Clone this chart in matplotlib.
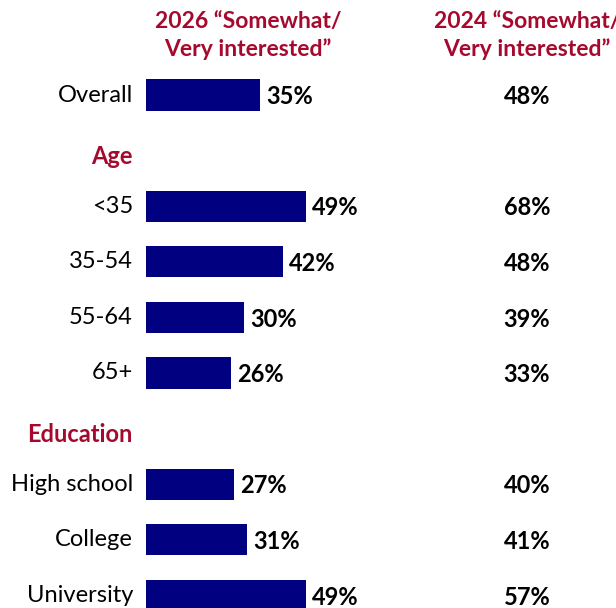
import matplotlib
matplotlib.use("Agg")
import matplotlib.pyplot as plt

# rows top to bottom; None value marks a section header
labels = ["Overall", "Age", "<35", "35-54", "55-64", "65+",
          "Education", "High school", "College", "University"]
is_header = [False, True, False, False, False, False, True, False, False, False]
vals_2026 = [35, None, 49, 42, 30, 26, None, 27, 31, 49]
vals_2024 = [48, None, 68, 48, 39, 33, None, 40, 41, 57]

col_head_2026 = "2026 \u201cSomewhat/\nVery interested\u201d"
col_head_2024 = "2024 \u201cSomewhat/\nVery interested\u201d"

NAVY = "#000080"
CRIMSON = "#A50A2E"
FONT = "Lato"

plt.rcParams['font.family'] = [FONT, 'DejaVu Sans']

fig = plt.figure(figsize=(6.16, 6.08), dpi=100)
ax = fig.add_axes([0, 0, 1, 1])
ax.set_xlim(-44.65, 143.73)
ax.set_ylim(9.227, -1.709)
ax.axis("off")

for i, lab in enumerate(labels):
    if is_header[i]:
        ax.text(-4, i + 0.1, lab, ha="right", va="center", fontsize=17,
                fontweight="bold", color=CRIMSON)
        continue
    ax.text(-4, i, lab, ha="right", va="center", fontsize=17, color="black")
    v = vals_2026[i]
    ax.barh(i, v, height=0.56, color=NAVY, left=0)
    ax.text(v + 1.8, i + 0.03, f"{v}%", ha="left", va="center", fontsize=17,
            fontweight="bold", color="black")
    ax.text(116.5, i + 0.03, f"{vals_2024[i]}%", ha="center", va="center",
            fontsize=17, fontweight="bold", color="black")

ax.text(31.2, -1.07, col_head_2026, ha="center", va="center", fontsize=16.5,
        fontweight="bold", color=CRIMSON, linespacing=1.4)
ax.text(116.5, -1.07, col_head_2024, ha="center", va="center", fontsize=16.5,
        fontweight="bold", color=CRIMSON, linespacing=1.4)

fig.savefig("out.png", dpi=100)
